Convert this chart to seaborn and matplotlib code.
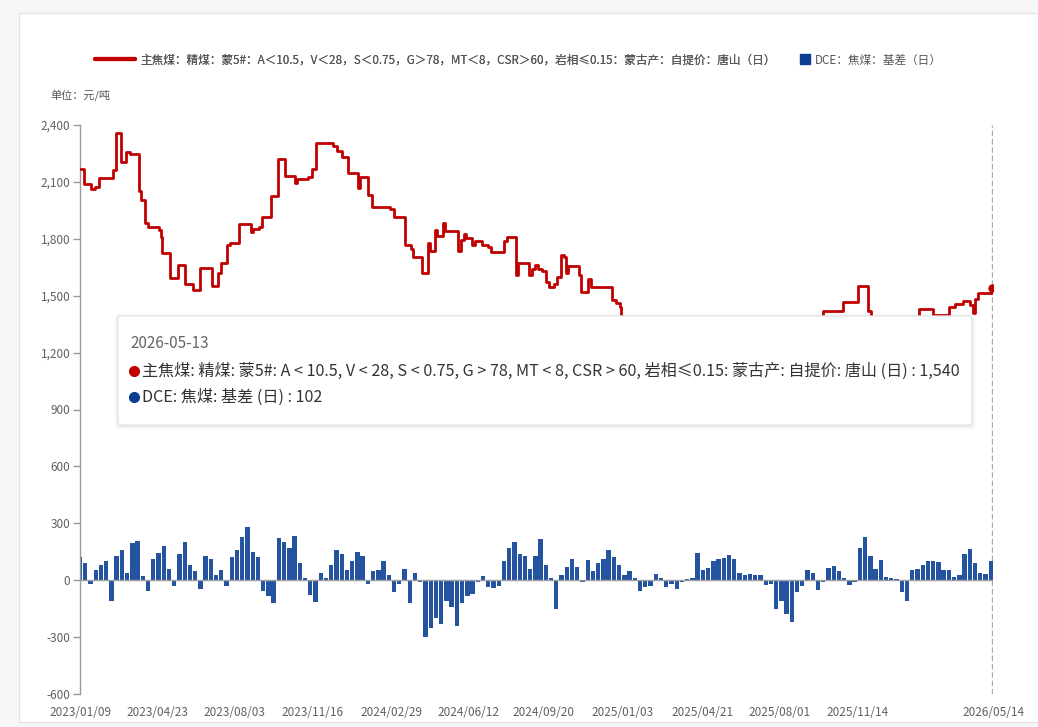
import numpy as np
import pandas as pd
import matplotlib
matplotlib.use("Agg")
import matplotlib.pyplot as plt
import seaborn as sns
from matplotlib.patches import FancyBboxPatch, Rectangle
from matplotlib.lines import Line2D
import matplotlib.ticker as mticker

# ---------------- data ----------------
price_dates = ['2023-01-09','2023-01-15','2023-01-24','2023-01-29','2023-02-04','2023-02-22','2023-02-26',
    '2023-03-05','2023-03-11','2023-03-17','2023-03-29','2023-04-01','2023-04-06','2023-04-10','2023-04-24',
    '2023-04-27','2023-04-28','2023-05-09','2023-05-20','2023-05-29','2023-06-09','2023-06-18','2023-07-05',
    '2023-07-12','2023-07-17','2023-07-24','2023-07-29','2023-08-09','2023-08-26','2023-08-29','2023-09-05',
    '2023-09-09','2023-09-22','2023-10-01','2023-10-10','2023-10-24','2023-10-26','2023-11-10','2023-11-15',
    '2023-11-20','2023-12-14','2023-12-19','2023-12-25','2024-01-02','2024-01-16','2024-01-19','2024-01-29',
    '2024-02-03','2024-02-28','2024-03-04','2024-03-18','2024-03-26','2024-03-30','2024-04-11','2024-04-19',
    '2024-04-21','2024-04-28','2024-05-01','2024-05-08','2024-05-11','2024-05-29','2024-06-01','2024-06-05',
    '2024-06-08','2024-06-16','2024-06-20','2024-06-30','2024-07-07','2024-07-11','2024-07-29','2024-08-02',
    '2024-08-14','2024-08-17','2024-09-01','2024-09-04','2024-09-08','2024-09-12','2024-09-18','2024-09-23',
    '2024-09-27','2024-10-04','2024-10-08','2024-10-13','2024-10-17','2024-10-20','2024-10-23','2024-11-06',
    '2024-11-09','2024-11-19','2024-11-22','2024-12-20','2024-12-26','2024-12-31','2025-01-01','2025-01-18',
    '2025-02-17','2025-03-19','2025-04-18','2025-05-18','2025-06-17','2025-07-02','2025-07-17','2025-08-06',
    '2025-08-21','2025-09-28','2025-10-25','2025-11-14','2025-11-28','2025-12-02','2026-01-23','2026-02-04',
    '2026-02-23','2026-03-16','2026-03-24','2026-04-04','2026-04-13','2026-04-17','2026-04-20','2026-04-24',
    '2026-05-12','2026-05-13']
price_values = [2170, 2090, 2063, 2075, 2119, 2163, 2360,
    2207, 2259, 2245, 2054, 2005, 1882, 1861, 1847,
    1811, 1727, 1592, 1662, 1562, 1530, 1645, 1553,
    1618, 1674, 1767, 1780, 1878, 1838, 1851, 1861,
    1913, 2026, 2219, 2131, 2093, 2114, 2124, 2166,
    2307, 2290, 2265, 2233, 2145, 2066, 2124, 2031,
    1966, 1955, 1913, 1767, 1744, 1706, 1622, 1776,
    1738, 1846, 1815, 1882, 1843, 1738, 1794, 1825,
    1802, 1767, 1790, 1767, 1757, 1732, 1790, 1811,
    1609, 1671, 1609, 1639, 1662, 1639, 1632, 1574,
    1548, 1562, 1600, 1715, 1706, 1622, 1657, 1609,
    1521, 1588, 1548, 1477, 1460, 1440, 1385, 1330,
    1250, 1180, 1120, 1050, 980, 1050, 1180, 1300,
    1370, 1421, 1465, 1553, 1421, 1385, 1380, 1430,
    1398, 1442, 1455, 1470, 1450, 1410, 1480, 1516,
    1540, 1540]

basis_start = '2023-01-09'
basis_values = [122, 90, -20, 55, 80, 100, -110, 125, 160, 40,
    195, 207, 20, -58, 110, 143, 180, 60, -30, 140,
    200, 80, 50, -45, 130, 110, 30, 55, -30, 120,
    160, 230, 280, 150, 120, -55, -84, -120, 220, 204,
    170, 235, 90, 10, -80, -115, 40, 10, 80, 160,
    140, 55, 100, 150, 126, -20, 47, 55, 100, 30,
    -60, -20, 60, -120, 40, -10, -300, -250, -200, -230,
    -110, -140, -240, -120, -85, -75, -10, 20, -35, -40,
    -30, 100, 170, 200, 140, 125, 60, 130, 215, 82,
    10, -150, 30, 70, 110, 70, -10, 108, 50, 90,
    110, 160, 120, 80, 25, 50, 10, -58, -35, -30,
    35, 10, -35, -20, -45, -10, 5, 10, 143, 56,
    65, 100, 112, 117, 134, 110, 40, 30, 35, 25,
    30, -25, -20, -150, -110, -180, -220, -60, -30, 56,
    40, -50, -10, 65, 73, 50, 10, -25, -10, 170,
    230, 130, 60, 108, 15, 10, 5, -60, -110, 56,
    60, 80, 100, 100, 95, 55, 55, 15, 30, 140,
    164, 90, 40, 35, 102]

xtick_labels = ['2023/01/09', '2023/04/23', '2023/08/03', '2023/11/16', '2024/02/29', '2024/06/12',
                '2024/09/20', '2025/01/03', '2025/04/21', '2025/08/01', '2025/11/14', '2026/05/14']
yticks = [-600, -300, 0, 300, 600, 900, 1200, 1500, 1800, 2100, 2400]

line_label = '主焦煤：精煤：蒙5#：A＜10.5，V＜28，S＜0.75，G＞78，MT＜8，CSR＞60，岩相≤0.15：蒙古产：自提价：唐山（日）'
bar_label = 'DCE：焦煤：基差（日）'
tip_date = '2026-05-13'
tip_line = '主焦煤: 精煤: 蒙5#: A < 10.5, V < 28, S < 0.75, G > 78, MT < 8, CSR > 60, 岩相≤0.15: 蒙古产: 自提价: 唐山 (日) : 1,540'
tip_bar = 'DCE: 焦煤: 基差 (日) : 102'

RED = '#c00000'
BLUE = '#24539f'
BLUE_LEG = '#0b3d91'
GRAY_TXT = '#606060'

# ---------------- style ----------------
sns.set_theme(style='white')
plt.rcParams['font.family'] = ['Noto Sans CJK SC', 'DejaVu Sans']
plt.rcParams['axes.unicode_minus'] = False

W, H = 1038, 727
fig = plt.figure(figsize=(W / 100, H / 100), dpi=100)
fig.patch.set_facecolor('#f7f7f7')
fig.add_artist(Rectangle((19 / W, 5 / H), 1, (722 - 13) / H, transform=fig.transFigure,
                         facecolor='white', edgecolor='#e4e4e4', lw=1, zorder=0))

ax = fig.add_axes([80 / W, 1 - 694 / H, (993 - 80) / W, (694 - 125) / H])
ax.set_facecolor('none')

pdates = pd.to_datetime(price_dates)
bdates = pd.date_range(basis_start, periods=len(basis_values), freq='7D')

ax.bar(bdates, basis_values, width=5.8, color=BLUE, linewidth=0, zorder=2)
ax.axhline(0, color='#a0a0a0', lw=1, zorder=3)
sns.lineplot(x=pdates, y=price_values, drawstyle='steps-post', color=RED, linewidth=2,
             ax=ax, zorder=4, legend=False)
ax.plot([pdates[-1]], [price_values[-1]], 'o', ms=5, color=RED, zorder=5)
ax.axvline(pdates[-1], color='#aaaaaa', lw=1, ls=(0, (4, 2)), zorder=1)

ax.set_xlim(pd.Timestamp('2023-01-09'), pd.Timestamp('2026-05-14'))
ax.set_ylim(-600, 2400)
ax.set_yticks(yticks)
ax.yaxis.set_major_formatter(mticker.FuncFormatter(lambda v, p: f'{int(v):,}'))
ax.set_xticks(pd.to_datetime(xtick_labels, format='%Y/%m/%d'))
ax.set_xticklabels(xtick_labels)
ax.tick_params(axis='y', length=5, width=1, color='#999999', labelcolor=GRAY_TXT, labelsize=8.5, pad=2, left=True)
ax.tick_params(axis='x', length=0, labelcolor=GRAY_TXT, labelsize=8.5, pad=9)
for s in ['top', 'right', 'bottom']:
    ax.spines[s].set_visible(False)
ax.spines['left'].set_color('#999999')
ax.spines['left'].set_linewidth(1)
ax.set_xlabel('')
ax.set_ylabel('')
ax.grid(False)

# legend (two entries placed separately)
leg_kw = dict(loc='center left', frameon=False, fontsize=8.4, handletextpad=0.5,
              labelcolor='#555555', borderpad=0, borderaxespad=0)
leg1 = fig.legend([Line2D([], [], color=RED, lw=3)], [line_label],
                  bbox_to_anchor=(95 / W, 1 - 60 / H), handlelength=3.4, **leg_kw)
fig.add_artist(leg1)
fig.legend([Line2D([], [], color=BLUE_LEG, marker='s', ls='none', ms=7)], [bar_label],
           bbox_to_anchor=(800 / W, 1 - 60 / H), handlelength=0.8, **leg_kw)
fig.text(50 / W, 1 - 96 / H, '单位：元/吨', fontsize=8, color='#555555', va='center', ha='left')

# tooltip overlay
tx0, ty0, tx1, ty1 = 118, 316, 972, 425
tax = fig.add_axes([tx0 / W, 1 - ty1 / H, (tx1 - tx0) / W, (ty1 - ty0) / H])
tax.set_xlim(0, tx1 - tx0)
tax.set_ylim(ty1 - ty0, 0)
tax.axis('off')
for i, a in enumerate([0.035, 0.025, 0.015, 0.01]):
    d = i + 1
    tax.add_patch(FancyBboxPatch((-d, -d + 1), tx1 - tx0 + 2 * d, ty1 - ty0 + 2 * d,
                                 boxstyle='round,pad=0,rounding_size=5', facecolor='black',
                                 edgecolor='none', alpha=a, clip_on=False, zorder=1))
tax.add_patch(FancyBboxPatch((0, 0), tx1 - tx0, ty1 - ty0, boxstyle='round,pad=0,rounding_size=4',
                             facecolor='white', edgecolor='#e6e6e6', lw=1, clip_on=False, zorder=2))
tax.text(12, 28, tip_date, fontsize=11, color='#666666', va='center', ha='left', zorder=3)
tax.plot([16], [55], 'o', ms=7, color=RED, zorder=3, clip_on=False)
tax.text(24, 55, tip_line, fontsize=11.6, color='#333333', va='center', ha='left', zorder=3)
tax.plot([16], [81], 'o', ms=7, color=BLUE_LEG, zorder=3, clip_on=False)
tax.text(24, 81, tip_bar, fontsize=11.6, color='#333333', va='center', ha='left', zorder=3)

fig.savefig('out.png', dpi=100, facecolor=fig.get_facecolor())
